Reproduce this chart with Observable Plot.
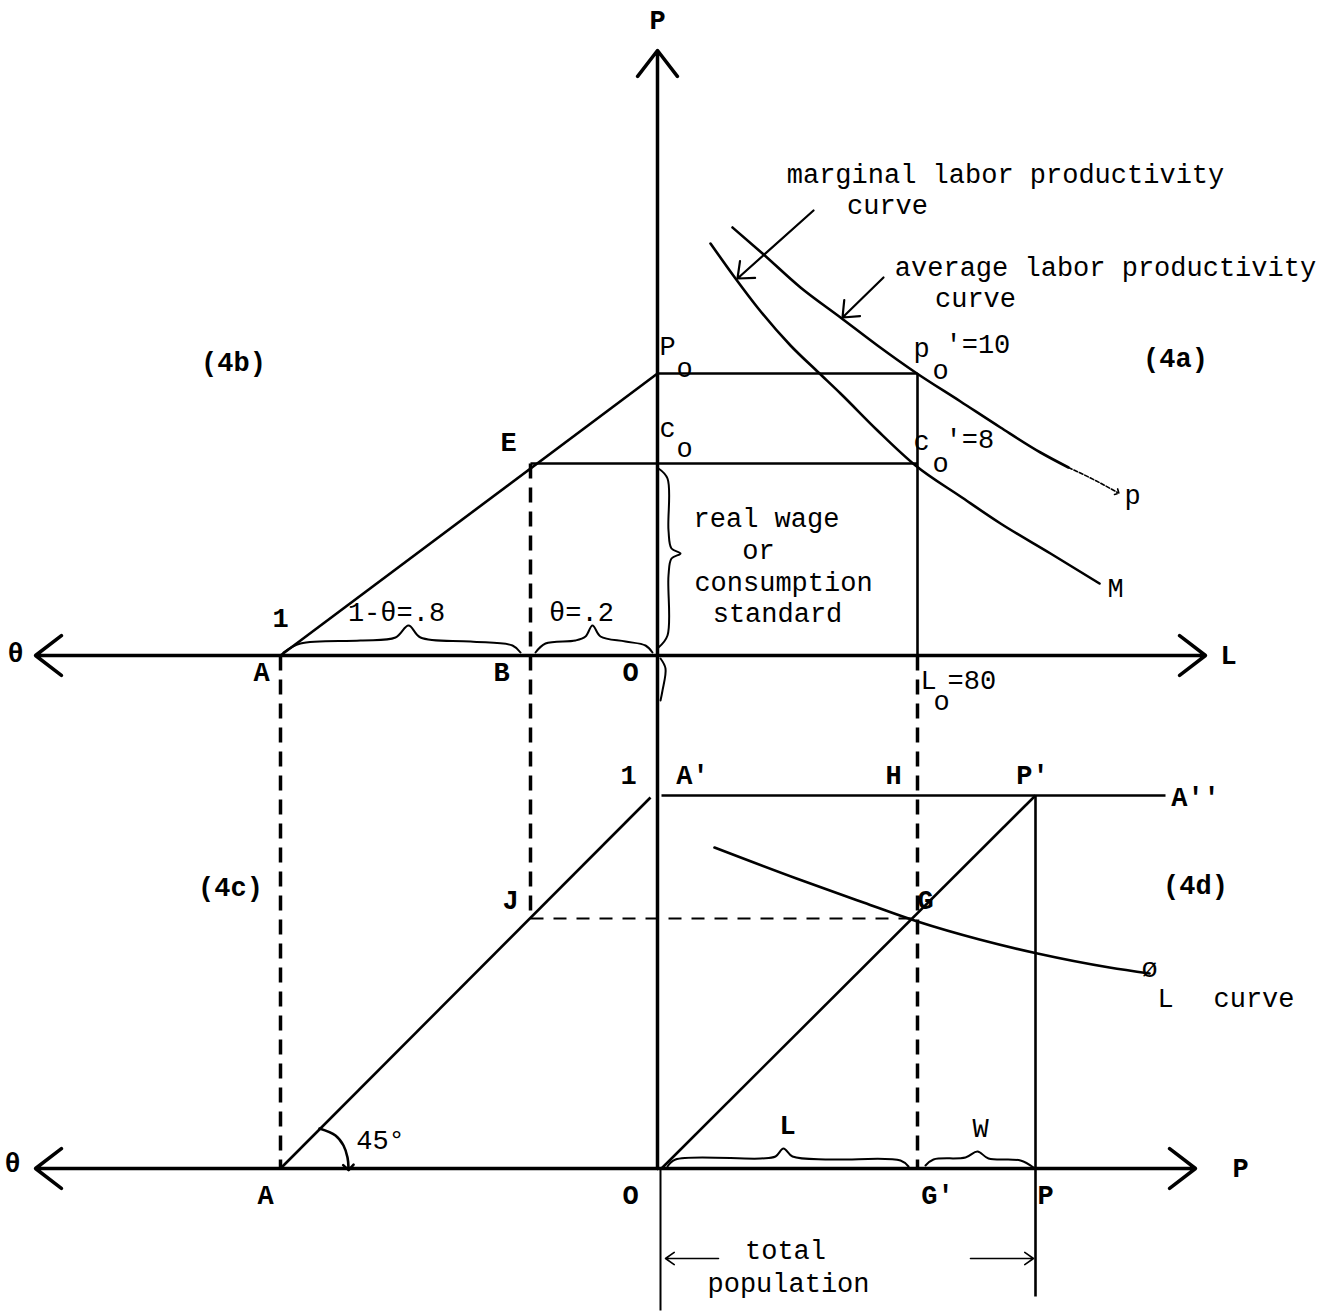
<!DOCTYPE html>
<html><head><meta charset="utf-8">
<script src="https://cdn.jsdelivr.net/npm/d3@7"></script>
<script src="https://cdn.jsdelivr.net/npm/@observablehq/plot@0.6"></script>
<style>body{margin:0;background:#fff}#chart svg{display:block}</style>
</head><body><div id="chart"></div>
<script>
// Diagram units: origin at O on the upper axis, y upward (1 unit ≈ 1 px).
// Axes with arrowheads (from -> tip)
const axisArrows = [
  {x1: 0, y1: 0, x2: -622, y2: 0},      // θ (upper)
  {x1: 0, y1: 0, x2: 548, y2: 0},       // L
  {x1: 0, y1: -513, x2: -622, y2: -513},// θ (lower)
  {x1: 0, y1: -513, x2: 538, y2: -513}, // P
  {x1: 0, y1: -513, x2: 0, y2: 605}     // P (vertical)
];
const solidLines = [
  {x1: -377, y1: 0, x2: 0, y2: 282},      // A -> P0
  {x1: 0, y1: 282, x2: 260, y2: 282},     // P0 -> p0'
  {x1: -127, y1: 192, x2: 260, y2: 192},  // E -> c0'
  {x1: 260, y1: 282, x2: 260, y2: 0},     // p0' -> L0
  {x1: -377, y1: -513, x2: -7, y2: -142}, // 45° line
  {x1: 4, y1: -140, x2: 508, y2: -140},   // A' -> A''
  {x1: 4, y1: -513, x2: 378, y2: -140},   // O -> P'
  {x1: 378, y1: -140, x2: 378, y2: -641}  // P' -> P
];
const thinLines = [
  {x1: 3, y1: -513, x2: 3, y2: -655}
];
const dashedLines = [
  {x1: -377, y1: 0, x2: -377, y2: -513},
  {x1: -127, y1: 192, x2: -127, y2: -263},
  {x1: 260, y1: 0, x2: 260, y2: -513}
];
const dashedThinLines = [
  {x1: -127, y1: -263, x2: 256, y2: -263}
];
// Curves
const marginalX = [53, 78, 100, 133, 161, 183, 220, 258, 303, 343, 393, 442];
const marginalY = [412, 377, 348, 310, 283, 262, 225, 190, 159, 132, 102, 72];
const averageX = [75, 105, 143, 183, 220, 258, 303, 343, 383, 411];
const averageY = [428, 402, 368, 338, 310, 283, 254, 228, 203, 188];
const averageTailX = [411, 438, 460];
const averageTailY = [188, 175, 163];
const phiX = [57, 139, 206, 260, 322, 380, 452, 492];
const phiY = [-192, -223, -247, -266, -284, -298, -312, -318];
// Pointer arrows for the curve labels
const pointers = [
  {x1: 156, y1: 445, x2: 80, y2: 377},
  {x1: 226, y1: 378, x2: 185, y2: 338}
];
// Braces
const brace1X = [-374, -357, -297, -262, -249, -237, -187, -145, -137];
const brace1Y = [3, 12, 15, 18, 30, 18, 14, 10, 3];
const brace2X = [-122, -112, -82, -72, -65, -57, -32, -12, -5];
const brace2Y = [3, 12, 15, 19, 30, 19, 14, 10, 3];
const braceVX = [1, 10, 11, 14, 23, 14, 11, 10, 1];
const braceVY = [187, 177, 125, 107, 102, 97, 80, 20, 8];
const squiggleX = [3, 8, 5, 3];
const squiggleY = [-3, -13, -35, -45];
const braceLX = [10, 18, 103, 118, 126, 135, 173, 243, 251];
const braceLY = [-511, -504, -503, -501, -493, -501, -504, -505, -511];
const braceWX = [268, 276, 308, 320, 331, 363, 376];
const braceWY = [-510, -504, -502, -496, -503, -505, -512];
// 45° arc
const arcX = [-338, -322, -314, -310, -309];
const arcY = [-473, -480, -490, -502, -512];
// total population arrows
const popArrows = [
  {x1: 61, y1: -603, x2: 8, y2: -603},
  {x1: 313, y1: -603, x2: 376, y2: -603}
];
// Labels
const boldLabels = [
  {t: "P", x: 0, y: 635}, {t: "θ", x: -642, y: 2}, {t: "L", x: 571, y: 0},
  {t: "(4b)", x: -424, y: 293}, {t: "(4a)", x: 518, y: 297},
  {t: "E", x: -149, y: 213}, {t: "1", x: -377, y: 37},
  {t: "A", x: -396, y: -17}, {t: "B", x: -156, y: -17}, {t: "O", x: -27, y: -17},
  {t: "1", x: -29, y: -120}, {t: "A'", x: 35, y: -120}, {t: "H", x: 236, y: -120},
  {t: "P'", x: 375, y: -120}, {t: "A''", x: 538, y: -142},
  {t: "(4c)", x: -427, y: -232}, {t: "(4d)", x: 538, y: -230},
  {t: "J", x: -147, y: -245}, {t: "G", x: 268, y: -245},
  {t: "θ", x: -645, y: -508}, {t: "A", x: -392, y: -540}, {t: "O", x: -27, y: -540},
  {t: "G'", x: 280, y: -540}, {t: "P", x: 388, y: -540}, {t: "P", x: 583, y: -513},
  {t: "L", x: 130, y: -470}
];
const plainLabels = [
  {t: "1-θ=.8", x: -261, y: 43}, {t: "θ=.2", x: -76, y: 43},
  {t: "real wage", x: 109, y: 137}, {t: "or", x: 101, y: 105},
  {t: "consumption", x: 126, y: 73}, {t: "standard", x: 120, y: 42},
  {t: "marginal labor productivity", x: 348, y: 481}, {t: "curve", x: 230, y: 450},
  {t: "average labor productivity", x: 448, y: 388}, {t: "curve", x: 318, y: 357},
  {t: "p", x: 475, y: 160}, {t: "M", x: 458, y: 67},
  {t: "W", x: 323, y: -473}, {t: "45°", x: -277, y: -485},
  {t: "total", x: 128, y: -595}, {t: "population", x: 131, y: -628}
];
const startLabels = [
  {t: "P", x: 2, y: 309}, {t: "o", x: 19, y: 287},
  {t: "c", x: 2, y: 227}, {t: "o", x: 19, y: 207},
  {t: "p", x: 256, y: 307}, {t: "o", x: 275, y: 285}, {t: "'=10", x: 288, y: 311},
  {t: "c", x: 256, y: 214}, {t: "o", x: 275, y: 192}, {t: "'=8", x: 288, y: 216},
  {t: "L", x: 263, y: -25}, {t: "o", x: 276, y: -46}, {t: "=80", x: 290, y: -25},
  {t: "ø", x: 484, y: -313}, {t: "L", x: 500, y: -343}, {t: "curve", x: 556, y: -343}
];

const pts = (xs, ys) => xs.map((x, i) => ({x, y: ys[i]}));
const FONT = "Liberation Mono, DejaVu Sans Mono, monospace";

const chart = Plot.plot({
  width: 1344, height: 1316, margin: 0,
  x: {domain: [-657, 687], axis: null},
  y: {domain: [-661, 655], axis: null},
  style: {background: "#fff", color: "#000"},
  marks: [
    Plot.arrow(axisArrows, {x1: "x1", y1: "y1", x2: "x2", y2: "y2", stroke: "#000", strokeWidth: 3.5, headLength: 14, headAngle: 75}),
    Plot.link(solidLines, {x1: "x1", y1: "y1", x2: "x2", y2: "y2", stroke: "#000", strokeWidth: 2.6}),
    Plot.link(thinLines, {x1: "x1", y1: "y1", x2: "x2", y2: "y2", stroke: "#000", strokeWidth: 2}),
    Plot.link(dashedLines, {x1: "x1", y1: "y1", x2: "x2", y2: "y2", stroke: "#000", strokeWidth: 3.5, strokeDasharray: "15,9"}),
    Plot.link(dashedThinLines, {x1: "x1", y1: "y1", x2: "x2", y2: "y2", stroke: "#000", strokeWidth: 2.2, strokeDasharray: "13,10"}),
    Plot.line(pts(marginalX, marginalY), {x: "x", y: "y", curve: "monotone-x", stroke: "#000", strokeWidth: 2.6}),
    Plot.line(pts(averageX, averageY), {x: "x", y: "y", curve: "monotone-x", stroke: "#000", strokeWidth: 2.6}),
    Plot.line(pts(averageTailX, averageTailY), {x: "x", y: "y", curve: "monotone-x", stroke: "#000", strokeWidth: 1.6, strokeDasharray: "4,2", markerEnd: "arrow"}),
    Plot.line(pts(phiX, phiY), {x: "x", y: "y", curve: "monotone-x", stroke: "#000", strokeWidth: 2.6}),
    Plot.arrow(pointers, {x1: "x1", y1: "y1", x2: "x2", y2: "y2", stroke: "#000", strokeWidth: 2.2, headLength: 12, headAngle: 80}),
    Plot.line(pts(brace1X, brace1Y), {x: "x", y: "y", curve: "catmull-rom", stroke: "#000", strokeWidth: 2}),
    Plot.line(pts(brace2X, brace2Y), {x: "x", y: "y", curve: "catmull-rom", stroke: "#000", strokeWidth: 2}),
    Plot.line(pts(braceVX, braceVY), {x: "x", y: "y", curve: "catmull-rom", stroke: "#000", strokeWidth: 2}),
    Plot.line(pts(squiggleX, squiggleY), {x: "x", y: "y", curve: "catmull-rom", stroke: "#000", strokeWidth: 2}),
    Plot.line(pts(braceLX, braceLY), {x: "x", y: "y", curve: "catmull-rom", stroke: "#000", strokeWidth: 2}),
    Plot.line(pts(braceWX, braceWY), {x: "x", y: "y", curve: "catmull-rom", stroke: "#000", strokeWidth: 2}),
    Plot.line(pts(arcX, arcY), {x: "x", y: "y", curve: "catmull-rom", stroke: "#000", strokeWidth: 2.6, markerEnd: "arrow"}),
    Plot.arrow(popArrows, {x1: "x1", y1: "y1", x2: "x2", y2: "y2", stroke: "#000", strokeWidth: 1.6, headLength: 10, headAngle: 70}),
    Plot.text(boldLabels, {x: "x", y: "y", text: "t", fontFamily: FONT, fontSize: 27, fontWeight: "bold", fill: "#000"}),
    Plot.text(plainLabels, {x: "x", y: "y", text: "t", fontFamily: FONT, fontSize: 27, fill: "#000"}),
    Plot.text(startLabels, {x: "x", y: "y", text: "t", textAnchor: "start", fontFamily: FONT, fontSize: 27, fill: "#000"})
  ]
});
document.getElementById("chart").appendChild(chart);
</script>
</body></html>
